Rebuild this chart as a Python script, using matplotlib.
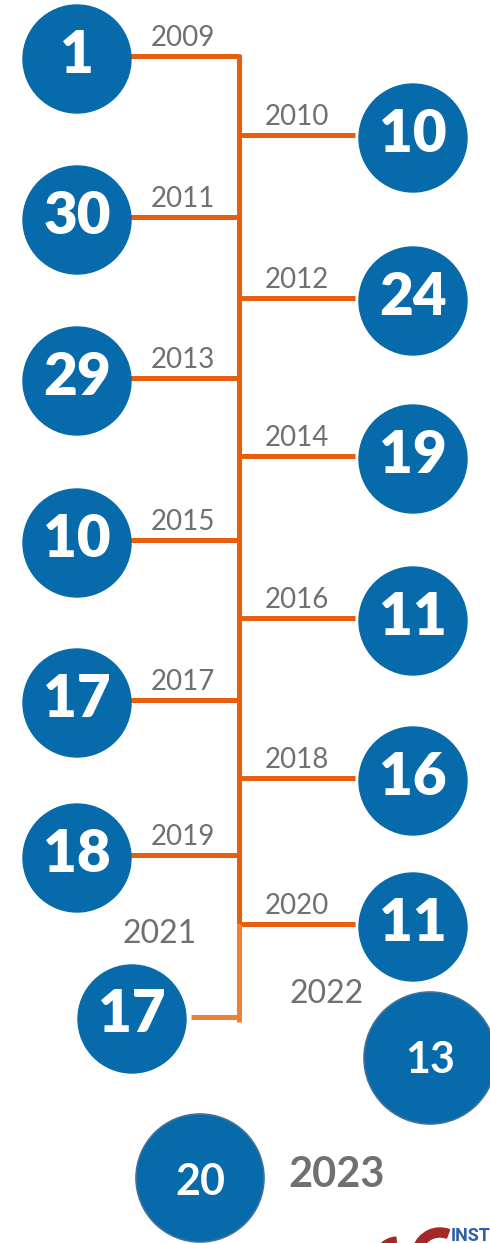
import matplotlib.pyplot as plt
from matplotlib.patches import Circle, Wedge

# values
years = [2009, 2010, 2011, 2012, 2013, 2014, 2015, 2016, 2017, 2018, 2019, 2020]
counts = [1, 10, 30, 24, 29, 19, 10, 11, 17, 16, 18, 11]
sides = ['L', 'R', 'L', 'R', 'L', 'R', 'L', 'R', 'L', 'R', 'L', 'R']
extra_years = [2021, 2022, 2023]
extra_counts = [17, 13, 20]

# layout (pixels)
branch_y = [56, 135, 217, 298, 378, 456, 540, 618, 700, 778, 855, 924]
trunk_x = 239
left_x, right_x = 77, 413
radius = 54

blue = '#066AAB'
orange = '#E85E0F'
light_orange = '#EF8036'
grey = '#707070'
font = ['Lato', 'DejaVu Sans']

fig = plt.figure(figsize=(4.9, 12.43), dpi=100)
ax = fig.add_axes([0, 0, 1, 1])
ax.set_xlim(0, 490)
ax.set_ylim(1243, 0)
ax.set_aspect('equal')
ax.axis('off')

lw = 3.6
ax.plot([trunk_x, trunk_x], [branch_y[0] - 2, branch_y[-1]], color=orange, lw=lw, solid_capstyle='butt', zorder=1)

for yr, n, side, y in zip(years, counts, sides, branch_y):
    if side == 'L':
        cx = left_x
        ax.plot([128, trunk_x], [y, y], color=orange, lw=lw, solid_capstyle='butt', zorder=1)
        lx = 183
    else:
        cx = right_x
        ax.plot([trunk_x, 355], [y, y], color=orange, lw=lw, solid_capstyle='butt', zorder=1)
        lx = 297
    ax.text(lx, y - 18, str(yr), color=grey, fontsize=20, family=font, ha='center', va='center')
    ax.add_patch(Circle((cx, y + 3), radius, color=blue, zorder=2))
    ax.text(cx, y - 1, str(n), color='white', fontsize=42, fontweight='heavy', family=font,
            ha='center', va='center', zorder=3)

# 2021 branch (lighter)
ax.plot([trunk_x, trunk_x], [branch_y[-1], 1022], color=light_orange, lw=lw, solid_capstyle='butt', zorder=1)
ax.plot([191, trunk_x], [1017, 1017], color=light_orange, lw=lw, solid_capstyle='butt', zorder=1)
ax.add_patch(Circle((132, 1019), radius, color=blue, zorder=2))
ax.text(132, 1015, str(extra_counts[0]), color='white', fontsize=42, fontweight='heavy', family=font,
        ha='center', va='center', zorder=3)
ax.text(160, 934, str(extra_years[0]), color=grey, fontsize=23, family=font, ha='center', va='center')

# 2022
ax.add_patch(Circle((430, 1058), 66, facecolor=blue, edgecolor='#41719C', lw=1.2, zorder=2))
ax.text(430, 1060, str(extra_counts[1]), color='white', fontsize=31, fontweight='bold', family=font,
        ha='center', va='center', zorder=3)
ax.text(327, 994, str(extra_years[1]), color=grey, fontsize=23, family=font, ha='center', va='center')

# 2023
ax.add_patch(Circle((200, 1178), 64, facecolor=blue, edgecolor='#41719C', lw=1.2, zorder=2))
ax.text(200, 1182, str(extra_counts[2]), color='white', fontsize=31, fontweight='bold', family=font,
        ha='center', va='center', zorder=3)
ax.text(337, 1175, str(extra_years[2]), color=grey, fontsize=30, fontweight='bold', family=font,
        ha='center', va='center')

# logo fragment, bottom right (y axis is flipped, so 180-360 deg points up)
ax.add_patch(Wedge((398, 1262), 25, 200, 265, width=8, color='#A52727', zorder=2))
ax.add_patch(Wedge((440, 1256), 28, 200, 290, width=9, color='#A52727', zorder=2))
ax.text(451, 1227, 'INST', color='#2F5FA8', fontsize=13, fontweight='bold', family=['Roboto', 'DejaVu Sans'],
        ha='left', va='top')

fig.savefig('out.png', dpi=100)
